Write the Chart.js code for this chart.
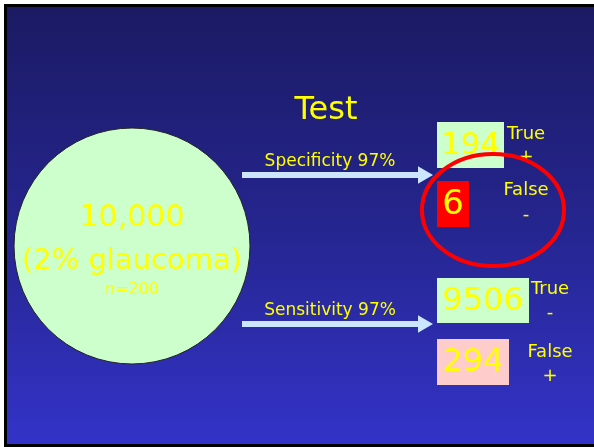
<!DOCTYPE html>
<html>
<head>
<meta charset="UTF-8">
<title>Test - Specificity / Sensitivity</title>
<script src="https://cdn.jsdelivr.net/npm/chart.js@4.4.1/dist/chart.umd.min.js"></script>
<style>
    html, body { margin: 0; padding: 0; background: #2a2aa8; overflow: hidden; }
    #slide { display: block; width: 594px; height: 447px; }
</style>
</head>
<body>
<canvas id="slide" width="594" height="447"></canvas>
<script>
// Values
const populationLabel = ['10,000', '(2% glaucoma)', 'n=200'];
const testTitle = 'Test';
const testLabels = ['Specificity 97%', 'Sensitivity 97%'];
const outcomeCounts = [194, 6, 9506, 294];
const outcomeNames = [['True', '+'], ['False', '-'], ['True', '-'], ['False', '+']];

// Layout in slide units (x 0..594, y 0..447 from top)
const W = 594, H = 447;
const FONT = '"DejaVu Sans", sans-serif';
const YELLOW = '#ffff00';
const circle = { x: 132, y: 246, r: 118 };
const arrowRows = [175, 324];
const arrowStart = 242, arrowTip = 433;
const boxes = [
    { x0: 437, x1: 504, y0: 122, y1: 168, fill: '#ccffcc', size: 31, lx: 526, ly: [134, 157] },
    { x0: 437, x1: 469, y0: 181, y1: 227, fill: '#ff0000', size: 34, lx: 526, ly: [190, 215] },
    { x0: 437, x1: 529, y0: 278, y1: 323, fill: '#ccffcc', size: 32, lx: 550, ly: [289, 313] },
    { x0: 437, x1: 509, y0: 339, y1: 385, fill: '#ffcccc', size: 32, lx: 550, ly: [352, 376] }
];
const ring = { x: 493, y: 210, rx: 71, ry: 56 };

const slidePlugin = {
    id: 'slide',
    beforeDraw(chart) {
        const { ctx } = chart;
        ctx.save();
        ctx.fillStyle = '#ffffff';
        ctx.fillRect(0, 0, W, H);
        ctx.fillStyle = '#000000';
        ctx.fillRect(4, 4, W, H);
        const g = ctx.createLinearGradient(0, 7, 0, H - 3);
        g.addColorStop(0, '#1b1a63');
        g.addColorStop(0.5, '#25258f');
        g.addColorStop(1, '#3333c8');
        ctx.fillStyle = g;
        ctx.fillRect(7, 7, W, H - 10);
        ctx.restore();
    },
    afterDatasetsDraw(chart) {
        const { ctx } = chart;
        const xs = chart.scales.x, ys = chart.scales.y;
        const px = v => xs.getPixelForValue(v);
        const py = v => ys.getPixelForValue(v);
        ctx.save();
        ctx.textAlign = 'center';
        ctx.textBaseline = 'middle';
        ctx.fillStyle = YELLOW;

        // population text inside the circle
        ctx.font = '30px ' + FONT;
        ctx.fillText(populationLabel[0], px(circle.x), py(218));
        ctx.font = '29px ' + FONT;
        ctx.fillText(populationLabel[1], px(circle.x), py(261));
        ctx.font = '16px ' + FONT;
        ctx.fillText(populationLabel[2], px(circle.x), py(290));

        // title and arrow labels
        ctx.font = '32px ' + FONT;
        ctx.fillText(testTitle, px(326), py(111));
        ctx.font = '17px ' + FONT;
        testLabels.forEach((t, i) => ctx.fillText(t, px(330), py(arrowRows[i] - 13)));

        // outcome boxes
        boxes.forEach((b, i) => {
            ctx.fillStyle = b.fill;
            ctx.fillRect(px(b.x0), py(b.y0), px(b.x1) - px(b.x0), py(b.y1) - py(b.y0));
            ctx.fillStyle = YELLOW;
            ctx.font = b.size + 'px ' + FONT;
            ctx.fillText(String(outcomeCounts[i]), px((b.x0 + b.x1) / 2), py((b.y0 + b.y1) / 2 + 1));
            ctx.font = '18px ' + FONT;
            ctx.fillText(outcomeNames[i][0], px(b.lx), py(b.ly[0]));
            ctx.fillText(outcomeNames[i][1], px(b.lx), py(b.ly[1]));
        });

        // red ring around the false negatives
        ctx.strokeStyle = '#ff0000';
        ctx.lineWidth = 4;
        ctx.beginPath();
        ctx.ellipse(px(ring.x), py(ring.y), ring.rx, ring.ry, 0, 0, Math.PI * 2);
        ctx.stroke();
        ctx.restore();
    }
};

const arrowSets = arrowRows.map(y => ({
    type: 'line',
    data: [{ x: arrowStart, y: y }, { x: arrowTip - 10, y: y }],
    borderColor: '#cce6ff',
    backgroundColor: '#cce6ff',
    borderWidth: 6,
    pointStyle: 'triangle',
    rotation: 90,
    pointRadius: [0, 10],
    pointBorderWidth: 0,
    clip: false
}));

new Chart(document.getElementById('slide'), {
    type: 'scatter',
    data: {
        datasets: [
            {
                type: 'bubble',
                data: [circle],
                backgroundColor: '#ccffcc',
                borderColor: '#222222',
                borderWidth: 1,
                clip: false
            },
            ...arrowSets
        ]
    },
    options: {
        responsive: false,
        animation: false,
        devicePixelRatio: 1,
        layout: { padding: 0, autoPadding: false },
        scales: {
            x: { type: 'linear', min: 0, max: W, display: false },
            y: { type: 'linear', min: 0, max: H, reverse: true, display: false }
        },
        plugins: {
            legend: { display: false },
            tooltip: { enabled: false }
        },
        events: []
    },
    plugins: [slidePlugin]
});
</script>
</body>
</html>
